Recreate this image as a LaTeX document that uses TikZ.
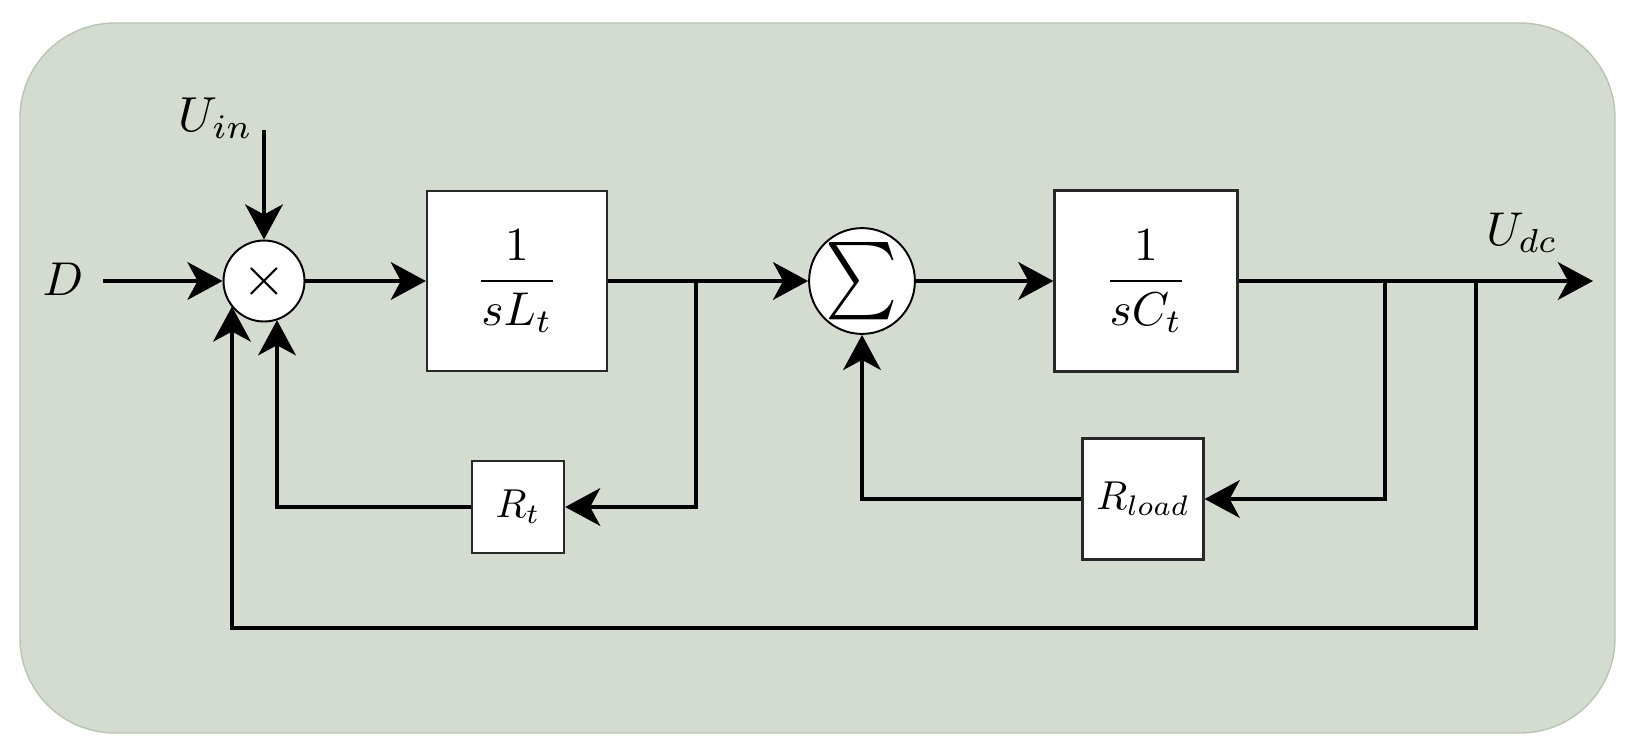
\documentclass[tikz,border=0pt]{standalone}
\usepackage{amsmath}
\usetikzlibrary{arrows.meta,calc}
\definecolor{bgfill}{RGB}{212,220,209}
\definecolor{bgedge}{RGB}{184,196,180}
\definecolor{boxedge}{RGB}{40,40,40}
\newcommand{\myscaled}[2]{\scalebox{#1}{#2}}
\begin{document}
\begin{tikzpicture}[x=0.02cm,y=-0.02cm,
  conn/.style={line width=2.8pt, -{Stealth[length=0.7cm,width=0.75cm,inset=0.2cm]}},
  blockbox/.style={draw=boxedge, line width=1.3pt, fill=white, inner sep=0pt},
  opcircle/.style={circle, draw=black, line width=1.1pt, fill=white, inner sep=0pt},
  lab/.style={inner sep=0pt}]
\useasboundingbox (0,0) rectangle (1629,747);
\path[fill=bgfill, draw=bgedge, line width=0.8pt, rounded corners=1.9cm] (20,23) rectangle (1615,733);

% operators and blocks
\node[opcircle, minimum size=1.62cm] (mul) at (264,281) {\myscaled{3.2}{$\times$}};
\node[opcircle, minimum size=2.04cm] (sum) at (862,281) {\scalebox{3.9}[4.4]{$\sum$}};
\node[blockbox, minimum width=3.6cm, minimum height=3.6cm] (Lt) at (517,281) {\myscaled{2.7}{$\displaystyle\frac{1}{sL_t}$}};
\node[blockbox, minimum width=3.66cm, minimum height=3.62cm] (Ct) at (1146,281) {\myscaled{2.7}{$\displaystyle\frac{1}{sC_t}$}};
\node[blockbox, minimum size=1.84cm] (Rt) at (518,507) {\myscaled{2.3}{$R_t$}};
\node[blockbox, minimum size=2.42cm] (Rl) at (1143,499) {\myscaled{2.3}{$R_{load}$}};

% labels
\node[lab] (Dlab) at (63,279) {\myscaled{2.7}{$D$}};
\node[lab] (Uinlab) at (216,118) {\myscaled{2.8}{$U_{in}$}};
\node[lab] (Udclab) at (1522,233) {\myscaled{2.7}{$U_{dc}$}};

% helper coordinates
\coordinate (dstart) at (103,281);
\coordinate (uinstart) at (264,130);
\coordinate (out) at (1593,281);
\coordinate (j1) at (696,281);
\coordinate (j1b) at (696,507);
\coordinate (rtl) at (277,507);
\coordinate (j2) at (1385,281);
\coordinate (j2b) at (1385,499);
\coordinate (sl) at (862,499);
\coordinate (j3) at (1476,281);
\coordinate (j3b) at (1476,628);
\coordinate (ol) at (232,628);

% forward path
\draw[conn] (dstart) -- (mul);
\draw[conn] (uinstart) -- (mul);
\draw[conn] (mul) -- (Lt);
\draw[conn] (Lt) -- (sum);
\draw[conn] (sum) -- (Ct);
\draw[conn] (Ct) -- (out);

% inner loop R_t
\draw[conn] (j1) -- (j1b) -- (Rt);
\draw[conn] (Rt) -- (rtl) -- (rtl |- mul.-71.3);

% load loop
\draw[conn] (j2) -- (j2b) -- (Rl);
\draw[conn] (Rl) -- (sl) -- (sum);

% outer loop U_dc
\draw[conn] (j3) -- (j3b) -- (ol) -- (ol |- mul.-142.2);
\end{tikzpicture}
\end{document}
